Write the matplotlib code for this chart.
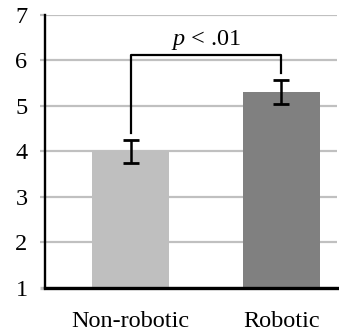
import matplotlib
matplotlib.use('Agg')
import matplotlib.pyplot as plt

# condition means with standard errors
groups = ['Non-robotic', 'Robotic']
means = [4.0, 5.3]
errors = [0.25, 0.27]
colors = ['#bfbfbf', '#808080']
yticks = [1, 2, 3, 4, 5, 6, 7]
# significance bracket
bracket_top = 6.12
bracket_legs = [4.4, 5.72]
sig_label = '$\\it{p}$ < .01'

plt.rcParams['font.family'] = ['Liberation Serif', 'DejaVu Serif']
plt.rcParams['mathtext.fontset'] = 'custom'
plt.rcParams['mathtext.it'] = 'Liberation Serif:italic'
plt.rcParams['mathtext.rm'] = 'Liberation Serif'

fs = 17.5

fig = plt.figure(figsize=(3.39, 3.32), dpi=100)
ax = fig.add_axes([0.1327, 0.134, 0.861, 0.821])

x = range(len(groups))
ax.bar(x, means, width=0.507, color=colors, zorder=2,
       yerr=errors, capsize=5.6,
       error_kw=dict(elinewidth=1.8, capthick=2, ecolor='black'))

# bracket joining the two bars
ax.plot([0, 0, 1, 1], [bracket_legs[0], bracket_top, bracket_top, bracket_legs[1]],
        color='black', lw=1.6, zorder=3)
ax.text(0.5, bracket_top + 0.06, sig_label, ha='center', va='bottom', fontsize=fs)

ax.set_xlim(-0.567, 1.367)
ax.set_ylim(1, 7)
ax.set_yticks(yticks)
ax.set_xticks(list(x))
ax.set_xticklabels(groups)
ax.yaxis.grid(True, color='#c0c0c0', lw=1.6, zorder=0)
ax.set_axisbelow(True)

for s in ['top', 'right']:
    ax.spines[s].set_visible(False)
ax.spines['left'].set_linewidth(1.7)
ax.spines['bottom'].set_linewidth(2.4)

ax.tick_params(axis='y', length=3.6, width=1.6, color='#c0c0c0', pad=9, labelsize=fs)
ax.tick_params(axis='x', length=0, pad=17, labelsize=fs)
first = ax.yaxis.get_major_ticks()[0]
first.tick1line.set_color('black')
first.tick1line.set_markeredgewidth(2.4)

fig.savefig('out.png', dpi=100)
